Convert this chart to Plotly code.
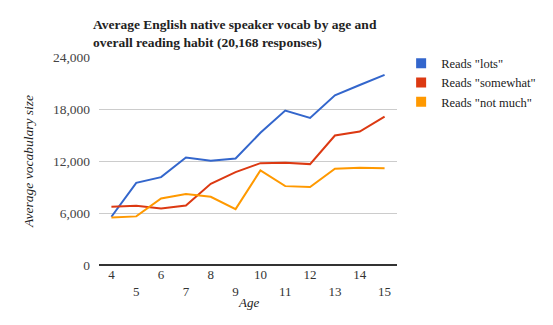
import plotly.graph_objects as go

ages = [4, 5, 6, 7, 8, 9, 10, 11, 12, 13, 14, 15]
reads_lots = [5570, 9480, 10140, 12400, 12020, 12290, 15250, 17820, 16970, 19580, 20770, 21930]
reads_somewhat = [6720, 6830, 6530, 6870, 9370, 10710, 11750, 11790, 11640, 14940, 15400, 17130]
reads_not_much = [5490, 5610, 7680, 8180, 7870, 6450, 10910, 9100, 8990, 11100, 11210, 11170]
series_names = ['Reads "lots"', 'Reads "somewhat"', 'Reads "not much"']
colors = ["#3366cc", "#dc3912", "#ff9900"]
y_ticks = [0, 6000, 12000, 18000, 24000]
x_ticktext = [str(a) if a % 2 == 0 else "<br>" + str(a) for a in ages]

FONT = "Georgia, 'Liberation Serif', 'DejaVu Serif', serif"

fig = go.Figure()
for name, vals, c in zip(series_names, [reads_lots, reads_somewhat, reads_not_much], colors):
    fig.add_trace(go.Scatter(x=ages, y=vals, mode="lines", line=dict(color=c, width=2),
                             showlegend=False, hoverinfo="x+y", name=name))
for name, c in zip(series_names, colors):
    fig.add_trace(go.Scatter(x=[None], y=[None], mode="markers", name=name,
                             marker=dict(symbol="square", size=10, color=c)))

fig.update_layout(
    width=553, height=325,
    margin=dict(l=99, r=148, t=57, b=60),
    paper_bgcolor="white", plot_bgcolor="white",
    font=dict(family=FONT, size=12, color="#444"),
    title=dict(text="Average English native speaker vocab by age and<br>overall reading habit (20,168 responses)",
               x=93/553, xanchor="left", xref="container",
               y=1 - 29/325, yanchor="top", yref="container",
               font=dict(family=FONT, size=13.5, color="#222", weight="bold")),
    legend=dict(x=1.04 - 8/306, xanchor="left", y=1.04, yanchor="top",
                font=dict(family=FONT, size=12.5, color="#222"),
                itemwidth=30, tracegroupgap=0, bgcolor="rgba(0,0,0,0)"),
    xaxis=dict(range=[3.5, 15.5], tickvals=ages, ticktext=x_ticktext,
               showgrid=False, zeroline=False, showline=False, ticks="",
               tickfont=dict(size=13, color="#333")),
    yaxis=dict(range=[0, 24000], tickvals=y_ticks, tickformat=",d",
               showgrid=True, gridcolor="#cccccc", gridwidth=1,
               zeroline=True, zerolinecolor="#333333", zerolinewidth=1.5,
               showline=False, ticks="", ticklabelstandoff=8,
               tickfont=dict(size=13.5, color="#444")),
    annotations=[
        dict(text="<i>Age</i>", x=0.5, xref="paper", y=-37/208, yref="paper",
             xanchor="center", yanchor="middle", showarrow=False,
             font=dict(family=FONT, size=13, color="#222")),
        dict(text="<i>Average vocabulary size</i>", x=(26 - 99) / 306, xref="paper", y=0.5, yref="paper",
             textangle=-90, xanchor="center", yanchor="middle", showarrow=False,
             font=dict(family=FONT, size=13.5, color="#222")),
    ],
)

fig.write_html("out.html")
